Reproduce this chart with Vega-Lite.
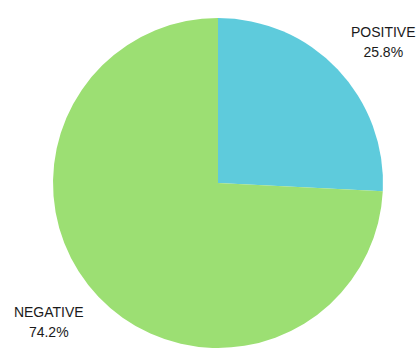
{
  "$schema": "https://vega.github.io/schema/vega-lite/v6.json",
  "autosize": "none",
  "padding": 0,
  "width": 436,
  "height": 366,
  "background": "white",
  "view": {"stroke": null},
  "data": {"values": [
    {"sentiment": "POSITIVE", "pct": 25.8, "order": 1, "label": "POSITIVE\n25.8%"},
    {"sentiment": "NEGATIVE", "pct": 74.2, "order": 2, "label": "NEGATIVE\n74.2%"}
  ]},
  "encoding": {
    "theta": {"field": "pct", "type": "quantitative", "stack": true},
    "order": {"field": "order", "type": "quantitative"}
  },
  "layer": [
    {
      "mark": {"type": "arc", "outerRadius": 165},
      "encoding": {
        "color": {
          "field": "sentiment", "type": "nominal",
          "scale": {"domain": ["POSITIVE", "NEGATIVE"], "range": ["#5ECBDC", "#9CDF73"]},
          "legend": null
        },
        "opacity": {
          "field": "sentiment", "type": "nominal",
          "scale": {"domain": ["POSITIVE", "NEGATIVE"], "range": [1, 1]},
          "legend": null
        }
      }
    },
    {
      "mark": {"type": "text", "radius": 217, "dx": 8, "dy": 0, "lineBreak": "\n", "font": "Liberation Sans", "fontSize": 14, "color": "#1a1a1a", "lineHeight": 20, "baseline": "middle", "align": "center"},
      "encoding": {
        "text": {"field": "label"},
        "opacity": {"condition": {"test": "datum.sentiment === 'POSITIVE'", "value": 1}, "value": 0}
      }
    },
    {
      "mark": {"type": "text", "radius": 217, "dx": -12, "dy": -20, "lineBreak": "\n", "font": "Liberation Sans", "fontSize": 14, "color": "#1a1a1a", "lineHeight": 20, "baseline": "middle", "align": "center"},
      "encoding": {
        "text": {"field": "label"},
        "opacity": {"condition": {"test": "datum.sentiment === 'NEGATIVE'", "value": 1}, "value": 0}
      }
    }
  ]
}
